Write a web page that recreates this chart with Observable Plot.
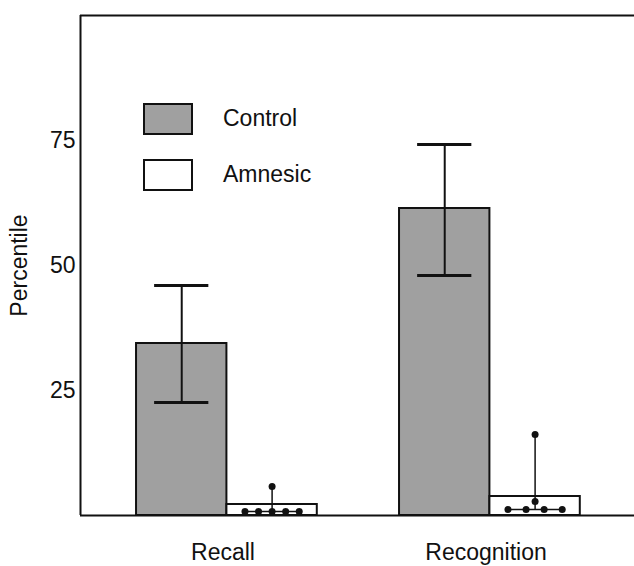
<!DOCTYPE html>
<html>
<head>
<meta charset="utf-8">
<script src="https://cdn.jsdelivr.net/npm/d3@7"></script>
<script src="https://cdn.jsdelivr.net/npm/@observablehq/plot@0.6"></script>
<style>
  body { margin: 0; background: #fff; }
  #wrap { position: relative; width: 634px; height: 566px; overflow: hidden; font-family: "Liberation Sans", Arial, sans-serif; color: #111; }
  .item { position: absolute; left: 143px; height: 32px; font-size: 23px; line-height: 32px; }
  .sw { position: absolute; left: 0; top: 0; width: 46px; height: 28px; border: 2px solid #111; }
  .lab { position: absolute; left: 80px; top: -1px; white-space: nowrap; }
</style>
</head>
<body>
<div id="wrap"></div>
<script>
// ---- data ----
const tasks = ["Recall", "Recognition"];
const groups = ["Control", "Amnesic"];
const groupColors = ["#a0a0a0", "#ffffff"];
const controlMean = [34.4, 61.4];
const controlLow = [22.6, 48.0];
const controlHigh = [46.0, 74.2];
const amnesicMean = [2.2, 3.8];
const amnesicRecallScores = [0.8, 0.8, 0.8, 0.8, 0.8, 5.8];
const amnesicRecallSlots = [-2, -1, 0, 1, 2, 0];
const amnesicRecognitionScores = [1.2, 1.2, 1.2, 1.2, 2.8, 16.2];
const amnesicRecognitionSlots = [-1.5, -0.5, 0.5, 1.5, 0, 0];
const yTicks = [25, 50, 75];
const yLabel = "Percentile";
const yDomain = [0, 100];

// ---- tables built from the arrays ----
const bars = tasks.flatMap((t, i) => [
  {task: t, group: groups[0], gi: 0, value: controlMean[i]},
  {task: t, group: groups[1], gi: 1, value: amnesicMean[i]}
]);
const errs = tasks.map((t, i) => ({task: t, gi: 0, lo: controlLow[i], hi: controlHigh[i]}));
const dotSpacing = {Recall: 0.15, Recognition: 0.2};
const scores = [
  ...amnesicRecallScores.map((v, j) => ({task: "Recall", gi: 1, value: v, slot: amnesicRecallSlots[j]})),
  ...amnesicRecognitionScores.map((v, j) => ({task: "Recognition", gi: 1, value: v, slot: amnesicRecognitionSlots[j]}))
];
const stems = tasks.map(t => {
  const s = scores.filter(d => d.task === t);
  return {task: t, gi: 1, lo: d3.min(s, d => d.value), hi: d3.max(s, d => d.value),
          smin: d3.min(s, d => d.slot), smax: d3.max(s, d => d.slot)};
});
const frameRules = t => yDomain.map(v => ({task: t, v}));
const cx = d => d.gi + 0.5;
const xDomain = [-0.62, 2.29];

const chart = Plot.plot({
  width: 634,
  height: 566,
  marginTop: 15,
  marginBottom: 51,
  marginLeft: 80,
  marginRight: 28,
  style: {fontFamily: "Liberation Sans, Arial, sans-serif", fontSize: "23px", color: "#111", background: "#fff", overflow: "visible"},
  fx: {domain: tasks, paddingInner: 0, paddingOuter: 0, label: null},
  x: {domain: xDomain, axis: null},
  y: {domain: yDomain, axis: null},
  color: {domain: groups, range: groupColors},
  marks: [
    Plot.ruleY(frameRules(tasks[0]), {fx: "task", y: "v", stroke: "#111", strokeWidth: 2}),
    Plot.ruleY(frameRules(tasks[1]), {fx: "task", y: "v", stroke: "#111", strokeWidth: 2, insetRight: -30}),
    Plot.axisY({ticks: yTicks, tickSize: 0, tickPadding: 5, label: yLabel, labelAnchor: "center", labelOffset: 70, labelArrow: "none"}),
    Plot.axisFx({anchor: "bottom", tickSize: 0, tickPadding: 28, dx: 11, label: null}),
    Plot.rect(bars, {fx: "task", x1: "gi", x2: d => d.gi + 1, y1: 0, y2: "value", fill: "group", stroke: "#111", strokeWidth: 2}),
    Plot.ruleX(errs, {fx: "task", x: cx, y1: "lo", y2: "hi", stroke: "#111", strokeWidth: 2}),
    Plot.ruleY(errs, {fx: "task", y: "lo", x1: d => cx(d) - 0.3, x2: d => cx(d) + 0.3, stroke: "#111", strokeWidth: 3}),
    Plot.ruleY(errs, {fx: "task", y: "hi", x1: d => cx(d) - 0.3, x2: d => cx(d) + 0.3, stroke: "#111", strokeWidth: 3}),
    Plot.ruleX(stems, {fx: "task", x: cx, y1: "lo", y2: "hi", stroke: "#111", strokeWidth: 1.5}),
    Plot.ruleY(stems, {fx: "task", y: "lo", x1: d => cx(d) + d.smin * dotSpacing[d.task], x2: d => cx(d) + d.smax * dotSpacing[d.task], stroke: "#111", strokeWidth: 1.5}),
    Plot.dot(scores, {fx: "task", x: d => cx(d) + d.slot * dotSpacing[d.task], y: "value", r: 3.5, fill: "#111", stroke: "none"}),
    Plot.ruleX([tasks[0]], {fx: d => d, x: () => xDomain[0], y1: yDomain[0], y2: yDomain[1], stroke: "#111", strokeWidth: 2})
  ]
});

const wrap = document.getElementById("wrap");
wrap.appendChild(chart);
const legendTops = [103, 159];
groups.forEach((g, i) => {
  const item = document.createElement("div");
  item.className = "item";
  item.style.top = legendTops[i] + "px";
  const sw = document.createElement("div");
  sw.className = "sw";
  sw.style.background = groupColors[i];
  const lab = document.createElement("div");
  lab.className = "lab";
  lab.textContent = g;
  item.appendChild(sw);
  item.appendChild(lab);
  wrap.appendChild(item);
});
</script>
</body>
</html>
